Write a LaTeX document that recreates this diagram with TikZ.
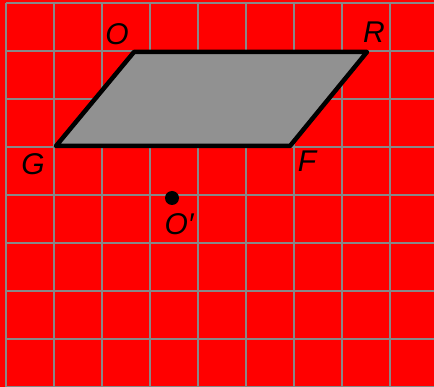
\documentclass[tikz,border=0pt]{standalone}
\usepackage{fontspec}
\setmainfont{Liberation Sans}
\definecolor{bgred}{RGB}{255,0,0}
\definecolor{gridgrey}{RGB}{136,136,136}
\definecolor{fillgrey}{RGB}{145,145,145}
\begin{document}
\begin{tikzpicture}[x=1pt,y=-1pt,
  gridline/.style={draw=gridgrey,line width=2.2pt},
  shapeedge/.style={draw=black,fill=fillgrey,line width=4.5pt,line join=round},
  ptlabel/.style={font=\fontsize{30}{30}\selectfont\itshape,inner sep=0pt,anchor=base},
  dotmark/.style={circle,fill=black,inner sep=0pt,minimum size=14pt}]
\fill[bgred] (0,0) rectangle (434,387);
\useasboundingbox (0,0) rectangle (434,387);
\foreach \i in {0,...,8} {
  \draw[gridline] (6+48*\i,3) -- (6+48*\i,390);
  \draw[gridline] (6,3+48*\i) -- (440,3+48*\i);
}
\coordinate (O) at (134,52);
\coordinate (R) at (367,52);
\coordinate (F) at (290,146);
\coordinate (G) at (56,146);
\draw[shapeedge] (O) -- (R) -- (F) -- (G) -- cycle;
\node[dotmark] (Op) at (172,198) {};
\node[ptlabel] (lO) at (117,45) {O};
\node[ptlabel] (lR) at (374,43) {R};
\node[ptlabel] (lG) at (33,175) {G};
\node[ptlabel] (lF) at (307,172) {F};
\node[ptlabel] (lOp) at (179,235) {O′};
\end{tikzpicture}
\end{document}
